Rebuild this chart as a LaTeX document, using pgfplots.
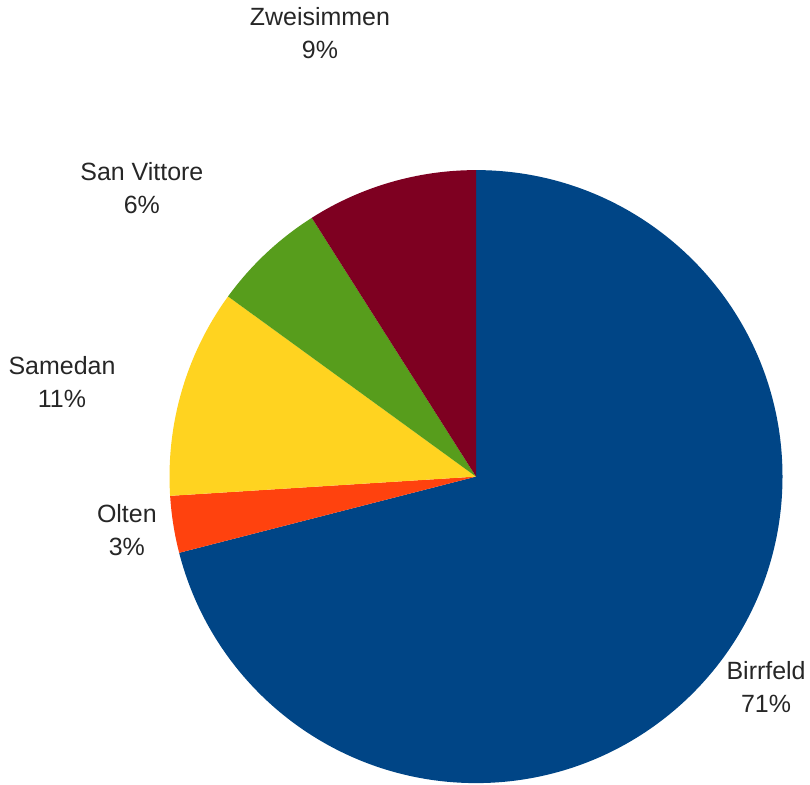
\documentclass[border=0pt]{standalone}
\usepackage{pgfplots}
\pgfplotsset{compat=1.18}
\usepackage{fontspec}
\setmainfont{Liberation Sans}
\definecolor{cA}{HTML}{004586}
\definecolor{cB}{HTML}{FF420E}
\definecolor{cC}{HTML}{FFD320}
\definecolor{cD}{HTML}{579D1C}
\definecolor{cE}{HTML}{7E0021}
\begin{document}
\begin{tikzpicture}
\begin{axis}[
  hide axis, scale only axis,
  width=8.1cm, height=7.85cm,
  xmin=-1.5556, xmax=1.0915, ymin=-1.0065, ymax=1.5555,
  clip=false,
]
\addplot[draw=none] coordinates {(0,0)};
\pgfplotsextra{
  \path (rel axis cs:0,0) rectangle (rel axis cs:1,1);
  \gdef\cum{90}
  \foreach \v/\c in {71/cA,3/cB,11/cC,6/cD,9/cE}{
    \pgfmathsetmacro\e{\cum-3.6*\v}
    \fill[\c] (axis cs:0,0) -- ++(\cum:3.065cm) arc[start angle=\cum,end angle=\e,radius=3.065cm] -- cycle;
    \xdef\cum{\e}
  }
}
\begin{scope}[every node/.style={align=center,inner sep=0pt,font=\fontsize{7.1}{9.4}\selectfont,text=black!85}]
\node at (axis cs:0.948,-0.686) {Birrfeld\\71\%};
\node at (axis cs:-1.141,-0.176) {Olten\\3\%};
\node at (axis cs:-1.353,0.310) {Samedan\\11\%};
\node at (axis cs:-1.092,0.941) {San Vittore\\6\%};
\node at (axis cs:-0.510,1.448) {Zweisimmen\\9\%};
\end{scope}
\end{axis}
\end{tikzpicture}
\end{document}
